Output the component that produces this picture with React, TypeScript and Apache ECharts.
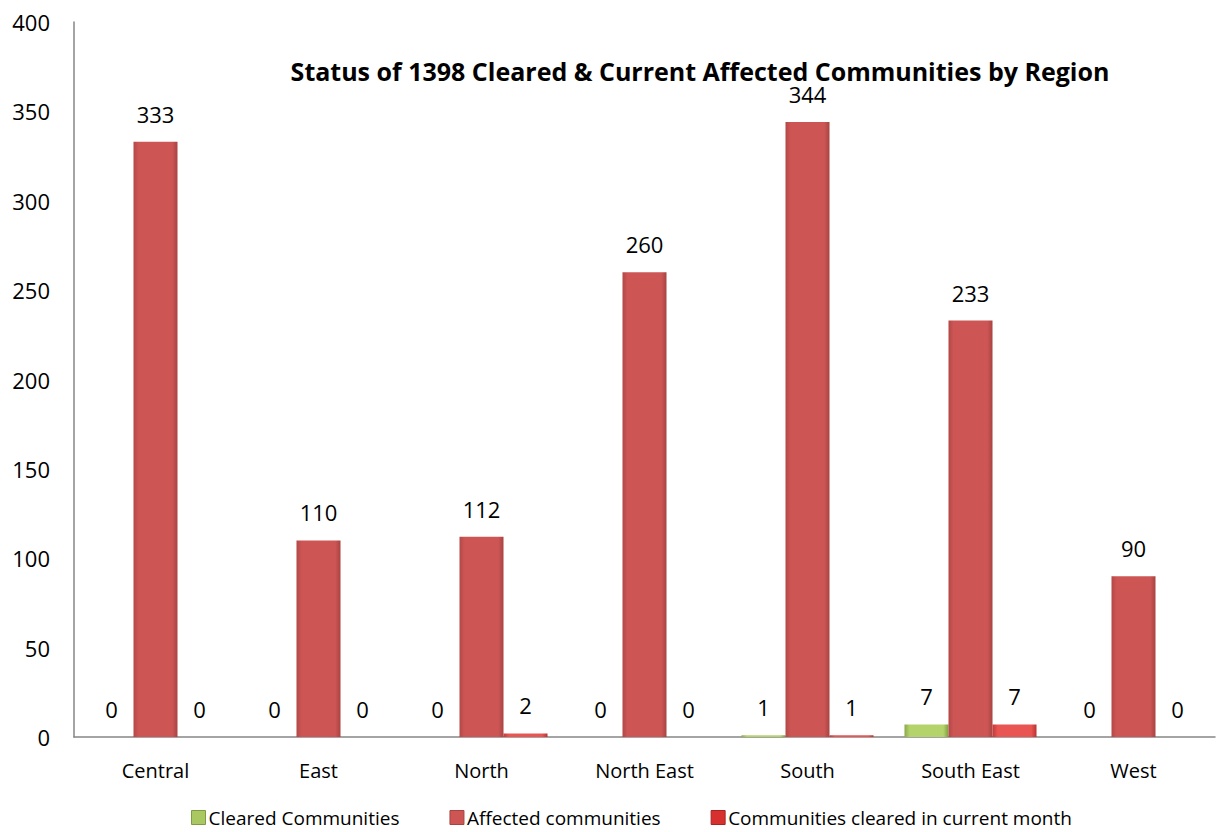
import React, { useEffect, useRef } from "react";
import * as echarts from "echarts";

const categories = ["Central", "East", "North", "North East", "South", "South East", "West"];
const clearedCommunities = [0, 0, 0, 0, 1, 7, 0];
const affectedCommunities = [333, 110, 112, 260, 344, 233, 90];
const clearedCurrentMonth = [0, 0, 2, 0, 1, 7, 0];
const seriesNames = ["Cleared Communities", "Affected communities", "Communities cleared in current month"];
const titleText = "Status of 1398 Cleared & Current Affected Communities by Region";

const FONT = "Open Sans, Lato, sans-serif";

function hGrad(c1: string, c2: string, c3: string) {
  return new echarts.graphic.LinearGradient(0, 0, 1, 0, [
    { offset: 0, color: c1 },
    { offset: 0.12, color: c2 },
    { offset: 0.88, color: c2 },
    { offset: 1, color: c3 },
  ]);
}

export default function App() {
  const ref = useRef<HTMLDivElement>(null);
  useEffect(() => {
    if (!ref.current) return;
    const chart = echarts.init(ref.current, null, { renderer: "svg" });
    const label = {
      show: true,
      position: "top",
      distance: 18,
      color: "#000",
      fontSize: 22,
      lineHeight: 20,
      fontFamily: FONT,
    };
    chart.setOption({
      animation: false,
      backgroundColor: "#fff",
      title: {
        text: titleText,
        left: 695,
        top: 54,
        textAlign: "center",
        textStyle: { fontSize: 25, lineHeight: 24, fontWeight: "bold", color: "#000", fontFamily: FONT },
      },
      legend: {
        top: 803,
        left: 186,
        itemWidth: 14,
        itemHeight: 14,
        itemGap: 50,
        textStyle: { fontSize: 19, color: "#000", fontFamily: FONT, padding: [0, 0, 0, -2] },
        data: [
          { name: seriesNames[0], icon: "rect", itemStyle: { color: "#a9c862", borderColor: "#7f9c42", borderWidth: 1 } },
          { name: seriesNames[1], icon: "rect", itemStyle: { color: "#cd5655", borderColor: "#a84341", borderWidth: 1 } },
          { name: seriesNames[2], icon: "rect", itemStyle: { color: "#d8302e", borderColor: "#a52523", borderWidth: 1 } },
        ],
      },
      grid: { left: 74, right: 4, top: 22, bottom: 95, containLabel: false },
      xAxis: {
        type: "category",
        data: categories,
        axisLine: { lineStyle: { color: "#868686", width: 1.5 } },
        axisTick: { show: false },
        axisLabel: { fontSize: 20, color: "#000", fontFamily: FONT, margin: 23 },
      },
      yAxis: {
        type: "value",
        min: 0,
        max: 400,
        interval: 50,
        axisLine: { show: true, lineStyle: { color: "#868686", width: 1.5 } },
        axisTick: { show: false },
        splitLine: { show: false },
        axisLabel: { fontSize: 22, color: "#000", fontFamily: FONT, margin: 24 },
      },
      series: [
        {
          name: seriesNames[0],
          type: "bar",
          data: clearedCommunities,
          barGap: "0%",
          barCategoryGap: "19%",
          itemStyle: { color: hGrad("#8aa84a", "#b5d36b", "#7f9c42") },
          label,
        },
        {
          name: seriesNames[1],
          type: "bar",
          data: affectedCommunities,
          itemStyle: { color: hGrad("#b34846", "#cd5655", "#a84341") },
          label,
        },
        {
          name: seriesNames[2],
          type: "bar",
          data: clearedCurrentMonth,
          itemStyle: { color: hGrad("#c23a38", "#e85552", "#b83432") },
          label,
        },
      ],
    });
    return () => chart.dispose();
  }, []);
  return (
    <div
      ref={ref}
      style={{ position: "absolute", left: 0, top: 0, width: 1219, height: 832 }}
    />
  );
}
